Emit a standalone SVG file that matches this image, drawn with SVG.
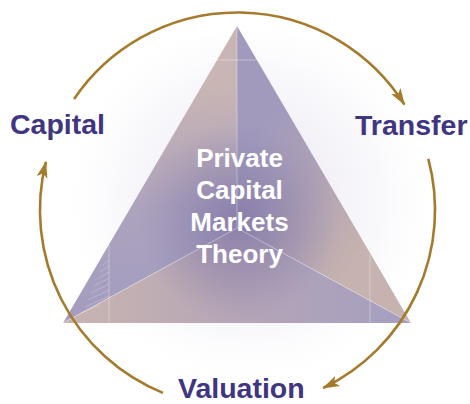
<svg xmlns="http://www.w3.org/2000/svg" width="470" height="404" viewBox="0 0 470 404">
  <defs>
    <style>
      .lbl { font-family: "Liberation Sans", Arial, sans-serif; font-weight: bold; font-size: 28.5px; fill: #3f3581; }
      .ctr { font-family: "Liberation Sans", Arial, sans-serif; font-weight: bold; font-size: 26px; fill: #ffffff; text-anchor: middle; }
      .arc { fill: none; stroke: #a47b2c; stroke-width: 2.6; }
      .edge { stroke: #ffffff; stroke-opacity: 0.35; stroke-width: 1; fill: none; }
      .hatch { stroke: #ffffff; stroke-opacity: 0.3; stroke-width: 0.8; }
    </style>
    <marker id="ah" markerUnits="userSpaceOnUse" markerWidth="18" markerHeight="13" viewBox="0 0 18 13" refX="16" refY="6.5" orient="auto">
      <path d="M0,1 L17,6.5 L0,12 L4,6.5 z" fill="#a47b2c"/>
    </marker>
    <linearGradient id="gLeft" x1="150" y1="90" x2="170" y2="300" gradientUnits="userSpaceOnUse">
      <stop offset="0" stop-color="#c9b5b3"/>
      <stop offset="0.55" stop-color="#ada3bd"/>
      <stop offset="1" stop-color="#a49dbf"/>
    </linearGradient>
    <linearGradient id="gRight" x1="245" y1="150" x2="375" y2="230" gradientUnits="userSpaceOnUse">
      <stop offset="0" stop-color="#a19abd"/>
      <stop offset="0.45" stop-color="#aea1b6"/>
      <stop offset="1" stop-color="#c6b2ae"/>
    </linearGradient>
    <linearGradient id="gBottom" x1="90" y1="300" x2="400" y2="300" gradientUnits="userSpaceOnUse">
      <stop offset="0" stop-color="#c6b3b1"/>
      <stop offset="0.45" stop-color="#b6a6b6"/>
      <stop offset="1" stop-color="#a69fc0"/>
    </linearGradient>
    <radialGradient id="gGlow" cx="238" cy="222" r="100" gradientUnits="userSpaceOnUse">
      <stop offset="0" stop-color="#7c72a4" stop-opacity="0.75"/>
      <stop offset="0.6" stop-color="#857ba9" stop-opacity="0.35"/>
      <stop offset="1" stop-color="#8f86ad" stop-opacity="0"/>
    </radialGradient>
    <radialGradient id="gHalo" cx="250" cy="200" r="190" gradientUnits="userSpaceOnUse">
      <stop offset="0" stop-color="#e4e0ee" stop-opacity="0.9"/>
      <stop offset="0.7" stop-color="#f3f1f7" stop-opacity="0.5"/>
      <stop offset="1" stop-color="#ffffff" stop-opacity="0"/>
    </radialGradient>
    <clipPath id="triClip">
      <polygon points="237,26 411,323 63,323"/>
    </clipPath>
  </defs>

  <rect width="470" height="404" fill="#ffffff"/>
  <ellipse cx="250" cy="205" rx="190" ry="175" fill="url(#gHalo)"/>

  <g id="pyramid">
    <polygon points="237,26 63,323 237,228" fill="url(#gLeft)"/>
    <polygon points="237,26 237,228 411,323" fill="url(#gRight)"/>
    <polygon points="63,323 237,228 411,323" fill="url(#gBottom)"/>
    <g clip-path="url(#triClip)">
      <rect x="60" y="20" width="360" height="310" fill="url(#gGlow)"/>
      <g class="hatch">
        <line x1="88" y1="300" x2="109" y2="290"/>
        <line x1="91" y1="293" x2="109" y2="284"/>
        <line x1="94" y1="286" x2="109" y2="278"/>
        <line x1="97" y1="279" x2="109" y2="272"/>
        <line x1="100" y1="272" x2="109" y2="266"/>
        <line x1="103" y1="265" x2="109" y2="260"/>
        <line x1="85" y1="307" x2="109" y2="296"/>
        <line x1="81" y1="313" x2="100" y2="305"/>
      </g>
    </g>
    <line class="edge" x1="237" y1="26" x2="237" y2="228"/>
    <line class="edge" x1="63" y1="323" x2="237" y2="228"/>
    <line class="edge" x1="411" y1="323" x2="237" y2="228"/>
    <line class="edge" x1="217" y1="60" x2="257" y2="60"/>
    <line class="edge" x1="109" y1="245" x2="109" y2="323"/>
    <line class="edge" x1="370" y1="255" x2="370" y2="323"/>
  </g>

  <g id="center-label">
    <text class="ctr" x="239.5" y="167">Private</text>
    <text class="ctr" x="239.5" y="199">Capital</text>
    <text class="ctr" x="239.5" y="231">Markets</text>
    <text class="ctr" x="239.5" y="263">Theory</text>
  </g>

  <g id="connectors">
    <path class="arc" d="M74.1,99 A197.5,197.5 0 0 1 404.4,104.5" marker-end="url(#ah)"/>
    <path class="arc" d="M428.3,158.9 A197.5,197.5 0 0 1 323.2,388" marker-end="url(#ah)"/>
    <path class="arc" d="M162.9,392.9 A197.5,197.5 0 0 1 45.9,161.9" marker-end="url(#ah)"/>
  </g>

  <g id="capital"><text class="lbl" x="10" y="134">Capital</text></g>
  <g id="transfer"><text class="lbl" x="355" y="135">Transfer</text></g>
  <g id="valuation"><text class="lbl" x="178" y="397.5">Valuation</text></g>
</svg>
